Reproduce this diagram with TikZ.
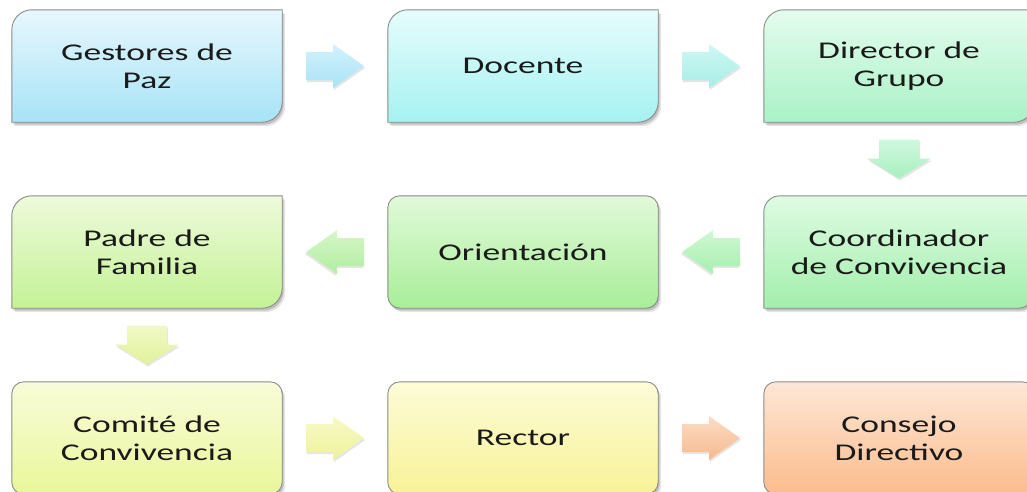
\documentclass[tikz,border=0pt]{standalone}
\usepackage{fontspec}
\setmainfont{Carlito}[FakeStretch=1.48]
\usetikzlibrary{calc,backgrounds}
\definecolor{bord}{HTML}{8A8A8A}
\definecolor{txt}{HTML}{1A1A1A}
% box colours (top / bottom)
\definecolor{gT}{HTML}{E8F7FD}\definecolor{gB}{HTML}{A7E3F7}
\definecolor{dT}{HTML}{E6FCFC}\definecolor{dB}{HTML}{A6F2F2}
\definecolor{dgT}{HTML}{E4FCEE}\definecolor{dgB}{HTML}{A9F2C6}
\definecolor{ccT}{HTML}{DFFBE3}\definecolor{ccB}{HTML}{A2EEAC}
\definecolor{oT}{HTML}{E2F9DA}\definecolor{oB}{HTML}{A8EE98}
\definecolor{pT}{HTML}{EEFADC}\definecolor{pB}{HTML}{C4F294}
\definecolor{cmT}{HTML}{F8FCD8}\definecolor{cmB}{HTML}{EAF79A}
\definecolor{rT}{HTML}{FDFCD8}\definecolor{rB}{HTML}{F8F296}
\definecolor{cdT}{HTML}{FDE7D6}\definecolor{cdB}{HTML}{FBBC8C}
% arrow colours
\definecolor{a1T}{HTML}{D2F1FC}\definecolor{a1B}{HTML}{A9E3F6}
\definecolor{a2T}{HTML}{CFF7F3}\definecolor{a2B}{HTML}{A6EEE6}
\definecolor{a3T}{HTML}{CFF8DE}\definecolor{a3B}{HTML}{A6F0C0}
\definecolor{a4T}{HTML}{CFF8D2}\definecolor{a4B}{HTML}{A6EFB0}
\definecolor{a5T}{HTML}{D6F6C8}\definecolor{a5B}{HTML}{B0EEA0}
\definecolor{a6T}{HTML}{F0F9C6}\definecolor{a6B}{HTML}{E2F29A}
\definecolor{a7T}{HTML}{F8F9C6}\definecolor{a7B}{HTML}{EEF39A}
\definecolor{a8T}{HTML}{FCDCC4}\definecolor{a8B}{HTML}{F7B98E}

\newcommand\boxpath[7]{%
 ($(#1.north west)+(#2,#3-#4)$) arc[start angle=180,end angle=90,radius=#4]
 -- ($(#1.north east)+(#2-#5,#3)$) arc[start angle=90,end angle=0,radius=#5]
 -- ($(#1.south east)+(#2,#3+#6)$) arc[start angle=0,end angle=-90,radius=#6]
 -- ($(#1.south west)+(#2+#7,#3)$) arc[start angle=270,end angle=180,radius=#7]
 -- cycle}
\newcommand\drawbox[7]{%
 \fill[black,opacity=0.16] \boxpath{#1}{1.5}{-2.5}{#4}{#5}{#6}{#7};
 \fill[black,opacity=0.10] \boxpath{#1}{3}{-4}{#4}{#5}{#6}{#7};
 \path[draw=bord,line width=0.9pt,top color=#2,bottom color=#3] \boxpath{#1}{0}{0}{#4}{#5}{#6}{#7};
}
\newcommand\harrow[5]{%
 \coordinate (m-#1-#2) at ($(#1)!0.5!(#2)$);
 \begin{scope}[shift={(m-#1-#2)},xscale=#3]
  \fill[black,opacity=0.10] (-28,12) -- (-1,12) -- (-1,20) -- (30,-2) -- (-1,-24) -- (-1,-16) -- (-28,-16) -- cycle;
  \path[top color=#4,bottom color=#5] (-29,14) -- (-2,14) -- (-2,22) -- (29,0) -- (-2,-22) -- (-2,-14) -- (-29,-14) -- cycle;
 \end{scope}}
\newcommand\varrow[4]{%
 \coordinate (m-#1-#2) at ($(#1)!0.5!(#2)$);
 \begin{scope}[shift={(m-#1-#2)}]
  \fill[black,opacity=0.10] (-19,17.5) -- (21,17.5) -- (21,-1.5) -- (33,-1.5) -- (1,-21.5) -- (-31,-1.5) -- (-19,-1.5) -- cycle;
  \path[top color=#3,bottom color=#4] (-20,19.5) -- (20,19.5) -- (20,0.5) -- (32,0.5) -- (0,-19.5) -- (-32,0.5) -- (-20,0.5) -- cycle;
 \end{scope}}

\begin{document}
\begin{tikzpicture}[x=1pt,y=1pt,
  stage/.style={minimum width=270pt,minimum height=112pt,inner sep=0pt,align=center,
    text=txt,font=\fontsize{24}{28}\selectfont}]
\useasboundingbox (0,0) rectangle (1027,-491);
\node[stage] (g)  at (147,-66)  {Gestores de\\Paz};
\node[stage] (d)  at (523,-66)  {Docente};
\node[stage] (dg) at (899,-66)  {Director de\\Grupo};
\node[stage] (cc) at (899,-252) {Coordinador\\de Convivencia};
\node[stage] (o)  at (523,-252) {Orientación};
\node[stage] (p)  at (147,-252) {Padre de\\Familia};
\node[stage] (cm) at (147,-438) {Comité de\\Convivencia};
\node[stage] (r)  at (523,-438) {Rector};
\node[stage] (cd) at (899,-438) {Consejo\\Directivo};
\begin{scope}[on background layer]
 \drawbox{g}{gT}{gB}{20}{0.01}{20}{0.01}
 \drawbox{d}{dT}{dB}{20}{0.01}{20}{0.01}
 \drawbox{dg}{dgT}{dgB}{20}{0.01}{20}{0.01}
 \drawbox{cc}{ccT}{ccB}{16}{0.01}{16}{0.01}
 \drawbox{o}{oT}{oB}{12}{12}{12}{12}
 \drawbox{p}{pT}{pB}{20}{0.01}{20}{0.01}
 \drawbox{cm}{cmT}{cmB}{12}{12}{12}{12}
 \drawbox{r}{rT}{rB}{12}{12}{12}{12}
 \drawbox{cd}{cdT}{cdB}{12}{12}{12}{12}
\end{scope}
\harrow{g}{d}{1}{a1T}{a1B}
\harrow{d}{dg}{1}{a2T}{a2B}
\varrow{dg}{cc}{a3T}{a3B}
\harrow{cc}{o}{-1}{a4T}{a4B}
\harrow{o}{p}{-1}{a5T}{a5B}
\varrow{p}{cm}{a6T}{a6B}
\harrow{cm}{r}{1}{a7T}{a7B}
\harrow{r}{cd}{1}{a8T}{a8B}
\end{tikzpicture}
\end{document}
